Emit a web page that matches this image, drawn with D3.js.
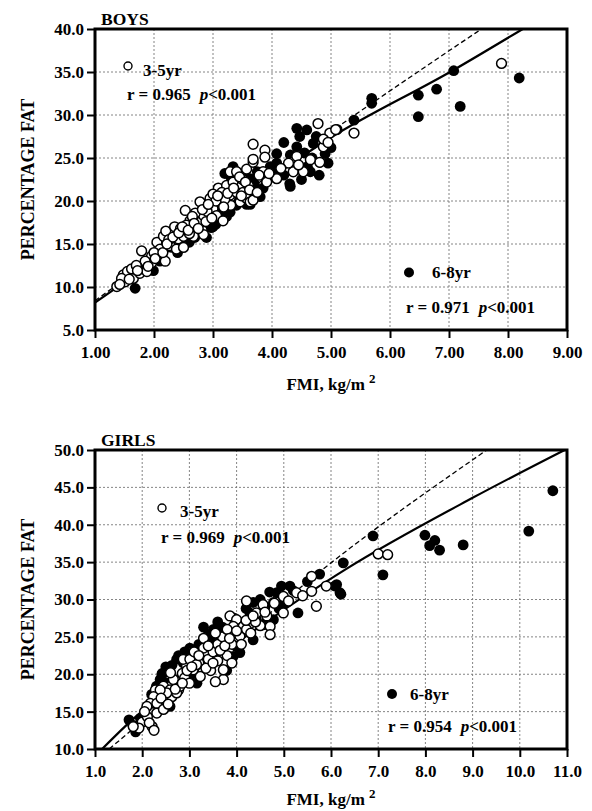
<!DOCTYPE html>
<html><head><meta charset="utf-8">
<script src="https://cdn.jsdelivr.net/npm/d3@7"></script>
<style>
body{margin:0;background:#fff}
text{font-family:"Liberation Serif","Times New Roman",serif;font-weight:bold;fill:#000}
</style>
</head><body><svg id="c" width="592" height="811"></svg>
<script>
// ---------- DATA ----------
const boysXTicks=[1,2,3,4,5,6,7,8,9];
const boysYTicks=[5,10,15,20,25,30,35,40];
const girlsXTicks=[1,2,3,4,5,6,7,8,9,10,11];
const girlsYTicks=[10,15,20,25,30,35,40,45,50];

// Boys 3-5yr (open) [FMI, %fat]
const boysYoung=[[1.37,10.05],[1.48,11.4],[1.59,11.4],[1.51,10.6],[1.65,11.0],[1.55,11.8],[1.62,12.1],[1.76,11.6],[1.88,11.8],[1.79,14.2],[1.96,13.6],[1.96,12.8],[2.05,15.2],[2.10,14.4],[2.16,15.9],[2.19,13.0],[2.27,14.8],[2.30,16.3],[2.38,14.4],[2.41,15.6],[2.50,14.6],[2.50,15.9],[2.53,18.9],[2.61,17.7],[2.67,15.9],[2.72,17.1],[2.78,17.5],[2.84,18.3],[2.78,19.9],[2.84,16.1],[2.95,20.3],[3.0,19.1],[3.09,21.5],[3.06,18.3],[3.12,19.9],[3.17,17.7],[3.23,21.8],[3.29,20.7],[3.34,22.2],[3.40,21.0],[3.46,19.9],[3.51,21.0],[3.57,20.3],[3.63,19.9],[3.68,20.1],[3.29,23.4],[3.40,23.4],[3.57,23.7],[3.68,24.5],[3.85,23.4],[3.91,22.2],[4.08,22.6],[4.31,24.5],[4.36,23.4],[4.53,23.4],[4.81,24.5],[4.78,29.0],[5.1,28.3],[4.98,27.9],[3.68,26.6],[3.88,25.9],[3.88,25.1],[3.68,24.85],[4.28,24.4],[4.42,25.2],[4.87,26.3],[4.87,27.2],[5.08,28.3],[5.39,27.9],[7.89,36.0],[2.2,16.5],[2.35,17.0],[2.45,16.8],[2.6,16.2],[2.7,18.6],[2.9,18.8],[3.0,20.8],[3.15,21.0],[3.3,19.5],[3.5,22.5],[3.2,20.2],[2.55,17.2],[2.0,14.0],[1.85,13.0],[2.88,17.6],[3.05,20.0],[3.45,22.8],[3.6,21.8],[2.25,15.5],[2.65,18.2],[1.7,12.5],[1.45,11.0],
 [1.42,10.3],[1.58,10.9],[1.72,11.9],[1.9,12.4],[2.02,13.3],[2.15,14.0],[2.22,15.0],[2.32,15.8],[2.42,16.3],[2.48,17.0],[2.58,16.6],[2.68,17.4],[2.75,16.8],[2.82,19.0],[2.92,19.6],[2.98,18.0],[3.08,20.6],[3.18,19.3],[3.25,20.9],[3.35,21.5],[3.48,20.6],[3.55,22.2],[3.62,21.3],[3.78,23.0],[3.95,23.2],[4.15,23.8],[4.45,24.2],[4.65,24.8],[4.95,26.8],[3.75,21.0]];
// Boys 6-8yr (filled)
const boysOld=[[1.68,9.85],[1.99,11.9],[2.69,15.75],[2.89,15.75],[2.9,17.5],[2.97,16.9],[3.23,18.2],[3.29,18.7],[3.57,20.7],[3.57,19.6],[3.63,19.6],[3.34,24.0],[3.40,23.4],[3.63,22.6],[3.97,24.0],[4.31,21.7],[4.65,23.4],[4.81,24.5],[4.36,24.5],[4.42,28.45],[4.59,28.26],[4.47,27.5],[4.08,25.5],[4.31,25.35],[4.42,26.3],[4.70,26.7],[4.68,25.0],[4.08,24.4],[5.69,31.94],[5.69,31.36],[5.39,29.4],[6.48,32.3],[6.48,29.8],[6.79,33.0],[7.19,31.0],[7.08,35.15],[8.19,34.3],[3.3,22.8],[3.5,23.0],[3.2,23.2],[3.7,22.0],[3.85,21.5],[4.0,22.8],[4.2,23.0],[4.5,22.5],[4.6,24.0],[4.8,23.0],[4.9,25.5],[4.95,24.4],[2.4,14.0],[2.1,13.0],[1.8,12.0],[3.1,17.8],[3.4,19.5],[3.8,20.5],[3.0,17.0],[4.3,22.0],[3.15,18.8],[2.6,15.2],
 [2.3,14.6],[2.5,15.0],[2.75,16.3],[3.05,17.3],[3.25,19.2],[3.45,20.2],[3.65,21.2],[3.9,22.3],[4.1,23.3],[4.4,23.6],[4.55,25.6],[4.75,27.5],[5.0,26.2],[4.2,26.8],[3.75,23.4]];
// Girls 3-5yr (open)
const girlsYoung=[[2.21,13.0],[2.0,13.6],[2.11,14.3],[1.93,12.8],[1.81,13.0],[2.28,17.9],[2.56,18.3],[2.70,19.2],[2.85,20.1],[2.35,15.6],[2.49,16.5],[2.63,17.0],[2.77,17.9],[2.45,18.4],[2.59,17.9],[2.73,17.5],[2.80,18.4],[2.66,19.3],[2.52,17.5],[2.38,17.9],[2.24,17.0],[2.17,16.1],[2.31,16.1],[2.10,15.7],[2.31,14.8],[2.45,15.3],[3.23,19.7],[3.08,20.6],[2.94,21.1],[2.87,22.0],[3.01,22.0],[3.72,19.3],[3.72,20.6],[3.86,27.8],[4.00,27.3],[4.14,26.4],[4.07,25.1],[4.21,26.0],[3.93,26.4],[4.21,29.8],[4.56,29.3],[4.42,28.2],[4.71,26.4],[4.71,25.3],[4.64,27.8],[4.99,30.4],[4.99,28.2],[5.27,30.9],[5.59,33.1],[5.90,31.8],[5.59,31.1],[5.69,29.1],[7.0,36.1],[7.2,36.0],[3.1,23.0],[3.3,23.5],[3.4,22.0],[3.5,23.0],[3.6,24.0],[3.2,21.5],[3.45,20.5],[3.6,21.8],[3.8,22.5],[3.9,24.0],[3.7,25.0],[3.55,25.5],[4.1,24.0],[4.3,25.5],[4.5,26.5],[3.3,24.8],[2.9,19.5],[3.0,18.8],[3.15,21.3],[3.8,26.0],[4.4,27.0],[2.6,20.2],[3.35,20.8],[3.65,23.2],
 [2.05,15.0],[2.15,13.5],[2.4,16.8],[2.55,16.0],[2.7,18.0],[2.85,18.8],[2.95,20.5],[3.05,21.0],[3.2,22.5],[3.4,23.8],[3.5,21.5],[3.75,23.8],[3.85,24.8],[4.0,25.8],[4.2,27.2],[4.35,27.8],[4.6,28.3],[4.8,29.5],[5.1,29.8],[5.4,30.5],[3.55,19.0],[3.9,21.5],[2.25,12.5]];
// Girls 6-8yr (filled)
const girlsOld=[[1.72,13.9],[1.86,12.3],[1.96,14.1],[2.59,15.7],[2.42,20.1],[2.63,21.2],[2.77,22.5],[2.92,21.9],[2.42,19.9],[2.38,19.3],[2.52,18.8],[3.16,18.8],[3.01,19.7],[3.01,23.5],[2.80,22.4],[2.73,22.0],[2.87,21.5],[3.51,26.0],[3.58,25.1],[3.44,24.6],[3.93,22.4],[4.07,22.9],[4.00,23.7],[4.35,24.6],[4.35,29.6],[4.28,28.2],[4.42,27.3],[4.56,26.6],[4.78,27.3],[4.85,30.9],[4.95,31.8],[5.13,31.8],[4.78,29.6],[5.30,28.2],[5.76,33.4],[6.12,32.0],[6.19,30.9],[6.26,34.9],[6.08,31.8],[6.21,30.7],[7.1,33.3],[6.89,38.5],[7.99,38.6],[8.20,37.9],[8.09,37.2],[8.30,36.6],[8.80,37.3],[10.19,39.15],[10.70,44.55],[3.79,20.5],[3.3,26.3],[3.6,27.0],[4.6,29.0],[5.0,29.5],[5.2,31.2],[2.2,17.3],[1.8,13.2],[4.1,25.8],
 [2.5,21.0],[2.9,23.0],[3.2,24.0],[3.4,25.3],[3.7,26.3],[3.95,27.5],[4.2,28.8],[4.5,30.0],[4.7,31.0],[5.5,32.4],[2.3,18.4],[3.1,20.2],[4.9,28.8]];

// Fitted curves
const boysSolidFit=[[1.0,8.2],[1.3,9.6],[3.0,17.9],[4.98,27.3],[7.07,35.2],[8.25,40]];
const boysDashedFit=[[1.0,8.4],[3.0,18.3],[5.32,29.6],[7.55,40]];
const girlsSolidFit=[[1.15,10],[1.65,13.1],[4.0,24.2],[6.3,34.0],[9.0,43.6],[10.95,50]];
const girlsDashedFit=[[1.3,10],[3.0,19.0],[6.0,34.9],[9.3,50]];

// Text
const boysTitle="BOYS", girlsTitle="GIRLS";
const boysStats=["0.965","0.971"], girlsStats=["0.969","0.954"];
const groupLabels=["3-5yr","6-8yr"];

// ---------- DRAW ----------
const svg=d3.select("#c");
svg.append("rect").attr("width",592).attr("height",811).attr("fill","#fff");

function panel(o){
  const x=d3.scaleLinear().domain([o.xTicks[0],o.xTicks[o.xTicks.length-1]]).range([95,567]);
  const y=d3.scaleLinear().domain([o.yTicks[0],o.yTicks[o.yTicks.length-1]]).range([o.bottom,o.top]);
  const g=svg.append("g");
  const id="clip"+o.key;
  svg.append("clipPath").attr("id",id).append("rect").attr("x",95).attr("y",o.top).attr("width",472).attr("height",o.bottom-o.top);

  // grid
  g.selectAll(".vg").data(o.xTicks.slice(1,-1)).enter().append("line")
    .attr("x1",d=>x(d)).attr("x2",d=>x(d)).attr("y1",o.top).attr("y2",o.bottom)
    .attr("stroke","#777").attr("stroke-width",0.9).attr("stroke-dasharray","2,2");
  g.selectAll(".hg").data(o.yTicks.slice(1,-1)).enter().append("line")
    .attr("y1",d=>y(d)).attr("y2",d=>y(d)).attr("x1",95).attr("x2",567)
    .attr("stroke","#777").attr("stroke-width",0.9).attr("stroke-dasharray","2,2");

  // fit lines
  const line=d3.line().x(d=>x(d[0])).y(d=>y(d[1])).curve(d3.curveMonotoneX);
  const lg=g.append("g").attr("clip-path",`url(#${id})`);
  lg.append("path").attr("d",line(o.dashed)).attr("fill","none").attr("stroke","#000").attr("stroke-width",1.3).attr("stroke-dasharray","5,3");
  lg.append("path").attr("d",line(o.solid)).attr("fill","none").attr("stroke","#000").attr("stroke-width",2.2);

  // points
  g.selectAll(".f").data(o.old).enter().append("circle")
    .attr("cx",d=>x(d[0])).attr("cy",d=>y(d[1])).attr("r",5.4).attr("fill","#000");
  g.selectAll(".o").data(o.young).enter().append("circle")
    .attr("cx",d=>x(d[0])).attr("cy",d=>y(d[1])).attr("r",4.9).attr("fill","#fff").attr("stroke","#000").attr("stroke-width",1.5);

  // axes
  const ax=g.append("g").attr("transform",`translate(0,${o.bottom})`)
    .call(d3.axisBottom(x).tickValues(o.xTicks).tickSize(8).tickPadding(8).tickFormat(d3.format(o.xFmt)));
  const ay=g.append("g").attr("transform","translate(95,0)")
    .call(d3.axisLeft(y).tickValues(o.yTicks).tickSize(8).tickPadding(3).tickFormat(d3.format(".1f")));
  [ax,ay].forEach(a=>{
    a.select(".domain").remove();
    a.selectAll("line").attr("stroke","#000").attr("stroke-width",2);
    a.selectAll("text").attr("font-size",17).attr("font-family",'"Liberation Serif",serif').attr("font-weight","bold").attr("fill","#000");
  });
  // frame
  g.append("rect").attr("x",95).attr("y",o.top).attr("width",472).attr("height",o.bottom-o.top)
    .attr("fill","none").attr("stroke","#000").attr("stroke-width",3);

  // titles
  g.append("text").attr("x",101).attr("y",o.top-4).attr("font-size",17.5).text(o.title);
  const yt=(o.top+o.bottom)/2;
  g.append("text").attr("transform",`translate(34,${yt}) rotate(-90)`).attr("text-anchor","middle")
    .attr("font-size",18).text("PERCENTAGE FAT");
  const xt=g.append("text").attr("x",331).attr("y",o.xTitleY).attr("text-anchor","middle").attr("font-size",17);
  xt.append("tspan").text("FMI, kg/m ");
  xt.append("tspan").attr("dy",-7).attr("font-size",13).text("2");

  // legends
  const L=o.leg;
  g.append("circle").attr("cx",L.c1[0]).attr("cy",L.c1[1]).attr("r",4).attr("fill","#fff").attr("stroke","#000").attr("stroke-width",1.4);
  g.append("text").attr("x",L.t1[0]).attr("y",L.t1[1]).attr("font-size",17).text(groupLabels[0]);
  statText(g,L.s1,o.stats[0]);
  g.append("circle").attr("cx",L.c2[0]).attr("cy",L.c2[1]).attr("r",5).attr("fill","#000");
  g.append("text").attr("x",L.t2[0]).attr("y",L.t2[1]).attr("font-size",17).text(groupLabels[1]);
  statText(g,L.s2,o.stats[1]);
}
function statText(g,p,r){
  const t=g.append("text").attr("x",p[0]).attr("y",p[1]).attr("font-size",17);
  t.append("tspan").text("r = "+r);
  t.append("tspan").attr("dx",9).attr("font-style","italic").text("p");
  t.append("tspan").text("<0.001");
}

panel({key:"b",xTicks:boysXTicks,yTicks:boysYTicks,top:29,bottom:330,xFmt:".2f",
  young:boysYoung,old:boysOld,solid:boysSolidFit,dashed:boysDashedFit,title:boysTitle,stats:boysStats,xTitleY:390,
  leg:{c1:[128,66],t1:[143,76],s1:[127,100],c2:[409,272.5],t2:[432,278],s2:[406,313]}});
panel({key:"g",xTicks:girlsXTicks,yTicks:girlsYTicks,top:450,bottom:749,xFmt:".1f",
  young:girlsYoung,old:girlsOld,solid:girlsSolidFit,dashed:girlsDashedFit,title:girlsTitle,stats:girlsStats,xTitleY:805,
  leg:{c1:[162,508],t1:[180,517],s1:[161,542.5],c2:[392,694],t2:[410,700],s2:[388,731.5]}});
</script></body></html>
